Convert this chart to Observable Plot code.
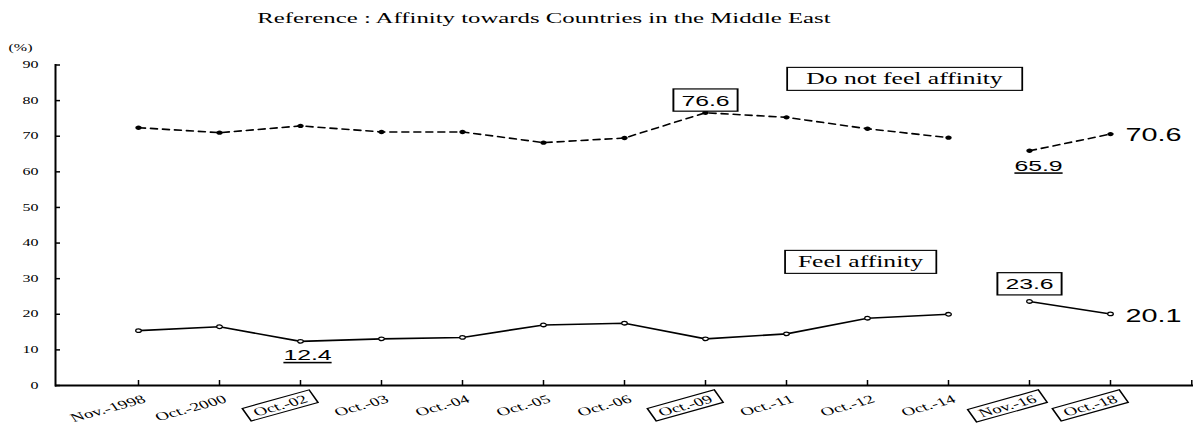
<!DOCTYPE html>
<html><head><meta charset="utf-8">
<script src="https://cdn.jsdelivr.net/npm/d3@7"></script>
<script src="https://cdn.jsdelivr.net/npm/@observablehq/plot@0.6"></script>
<style>body{margin:0;background:#fff} svg{display:block}</style>
</head><body>
<script>
// ---- data ----
const categories = ["Nov.-1998","Oct.-2000","Oct.-02","Oct.-03","Oct.-04","Oct.-05","Oct.-06","Oct.-09","Oct.-11","Oct.-12","Oct.-14","Nov.-16","Oct.-18"];
const notFeel = [72.4, 71.0, 72.9, 71.2, 71.2, 68.2, 69.5, 76.6, 75.3, 72.1, 69.6, 65.9, 70.6];
const feel    = [15.4, 16.5, 12.4, 13.1, 13.5, 17.0, 17.5, 13.1, 14.5, 18.9, 20.0, 23.6, 20.1];
const period  = [0,0,0,0,0,0,0,0,0,0,0,1,1]; // series break between Oct.-14 and Nov.-16
const yTicks = [0,10,20,30,40,50,60,70,80,90];
const boxedTicks = ["Oct.-02","Oct.-09","Nov.-16","Oct.-18"];
const titleText = "Reference : Affinity towards Countries in the Middle East";
const unitText = "(%)";
const legendNotFeel = "Do not feel affinity";
const legendFeel = "Feel affinity";

// ---- derived tables ----
const rowsNot = categories.map((c,i)=>({cat:c, value:notFeel[i], seg:period[i]}));
const rowsFeel = categories.map((c,i)=>({cat:c, value:feel[i], seg:period[i]}));
const pick = (rows, c) => rows.filter(d => d.cat === c);
const fmt = d => d.value.toFixed(1);

const boxedNot = pick(rowsNot, "Oct.-09"), boxedFeel = pick(rowsFeel, "Nov.-16");
const underFeel = pick(rowsFeel, "Oct.-02"), underNot = pick(rowsNot, "Nov.-16");
const endNot = pick(rowsNot, "Oct.-18"), endFeel = pick(rowsFeel, "Oct.-18");
const boxedValueTexts = [...boxedNot, ...boxedFeel].map(fmt);
const underlinedTexts = [...underFeel, ...underNot].map(fmt);

// ---- layout ----
const W = 1195, H = 426, mL = 55, mR = 2, mT = 64.5, mB = 41;
const step = (W - mL - mR) / (categories.length + 1);
const SX = 1.6;
const serif = "'Liberation Serif','Times New Roman',serif";
const sans = "'Liberation Sans',Arial,sans-serif";

function ellipse(rx, ry){
  const k = 0.5523;
  return {draw(ctx){
    ctx.moveTo(rx,0);
    ctx.bezierCurveTo(rx, ry*k, rx*k, ry, 0, ry);
    ctx.bezierCurveTo(-rx*k, ry, -rx, ry*k, -rx, 0);
    ctx.bezierCurveTo(-rx, -ry*k, -rx*k, -ry, 0, -ry);
    ctx.bezierCurveTo(rx*k, -ry, rx, -ry*k, rx, 0);
    ctx.closePath();
  }};
}

const chart = Plot.plot({
  width: W, height: H, marginLeft: mL, marginRight: mR, marginTop: mT, marginBottom: mB,
  style: {fontFamily: serif, fontSize: "12px", color: "#000", background: "#fff"},
  x: {type: "point", domain: categories, padding: 1},
  y: {type: "linear", domain: [0, 90]},
  marks: [
    Plot.frame({anchor: "left", strokeWidth: 2}),
    Plot.ruleY([0], {strokeWidth: 2}),
    Plot.axisY({ticks: yTicks, tickSize: 5, dx: 5, fill: "none", label: null, strokeWidth: 1.5}),
    Plot.axisY({ticks: yTicks, tickSize: 0, tickPadding: 17, fontSize: 10, label: null}),
    Plot.axisX({tickSize: 5, dy: -5, fill: "none", label: null, strokeWidth: 1.5}),
    Plot.ruleX([categories[categories.length-1]], {x: d => d, dx: step, y1: () => 0, y2: () => 1.4, strokeWidth: 1.5}),
    Plot.axisX({tickSize: 0, tickPadding: 13, tickRotate: -24, fontSize: 11.8, label: null, dx: 6}),
    // series lines
    Plot.line(rowsNot, {x: "cat", y: "value", z: "seg", stroke: "#000", strokeWidth: 1.6, strokeDasharray: "7,5"}),
    Plot.line(rowsFeel, {x: "cat", y: "value", z: "seg", stroke: "#000", strokeWidth: 1.6}),
    Plot.dot(rowsNot, {x: "cat", y: "value", symbol: ellipse(3.2, 2.2), fill: "#000", stroke: "none"}),
    Plot.dot(rowsFeel, {x: "cat", y: "value", symbol: ellipse(2.8, 1.8), fill: "#fff", stroke: "#000", strokeWidth: 1.3}),
    // value labels
    Plot.text(boxedNot, {x: "cat", y: "value", text: fmt, dy: -12, fontFamily: sans, fontSize: 15.5}),
    Plot.text(boxedFeel, {x: "cat", y: "value", text: fmt, dy: -17, fontFamily: sans, fontSize: 15.5}),
    Plot.text(underFeel, {x: "cat", y: "value", text: fmt, dx: 7, dy: 14, fontFamily: sans, fontSize: 15.5}),
    Plot.text(underNot, {x: "cat", y: "value", text: fmt, dx: 9, dy: 15, fontFamily: sans, fontSize: 15.5}),
    Plot.text(endNot, {x: "cat", y: "value", text: fmt, dx: 15, dy: 1, textAnchor: "start", fontFamily: sans, fontSize: 18}),
    Plot.text(endFeel, {x: "cat", y: "value", text: fmt, dx: 15, dy: 2, textAnchor: "start", fontFamily: sans, fontSize: 18}),
    // legend labels
    Plot.text([legendNotFeel], {frameAnchor: "top-left", text: d => d, textAnchor: "middle", lineAnchor: "middle", dx: 849, dy: 14, fontSize: 16}),
    Plot.text([legendFeel], {frameAnchor: "top-left", text: d => d, textAnchor: "middle", lineAnchor: "middle", dx: 805, dy: 197, fontSize: 16}),
    // title and unit
    Plot.text([titleText], {frameAnchor: "top-left", text: d => d, textAnchor: "middle", lineAnchor: "middle", dx: 488.5, dy: -47, fontSize: 15.5}),
    Plot.text([unitText], {frameAnchor: "top-left", text: d => d, textAnchor: "start", lineAnchor: "middle", dx: -47, dy: -17.5, fontSize: 10})
  ]
});
document.body.append(chart);

// ---- horizontal stretch of all text (the reference's text is widened) ----
function stretch(el){
  let t = el.getAttribute("transform");
  if (t) {
    const m = t.match(/^\s*translate\([^)]*\)/);
    t = m ? m[0] + ` scale(${SX},1)` + t.slice(m[0].length) : t + ` scale(${SX},1)`;
  } else {
    const x = +el.getAttribute("x") || 0, y = +el.getAttribute("y") || 0;
    el.removeAttribute("x"); el.removeAttribute("y");
    t = `translate(${x},${y}) scale(${SX},1)`;
  }
  el.setAttribute("transform", t);
}
const allTexts = [...chart.querySelectorAll("text")];
allTexts.forEach(stretch);

const NS = "http://www.w3.org/2000/svg";
function box(text, px, py, sw){
  const b = text.getBBox();
  const r = document.createElementNS(NS, "rect");
  r.setAttribute("x", b.x - px);
  r.setAttribute("y", b.y - py);
  r.setAttribute("width", b.width + 2*px);
  r.setAttribute("height", b.height + 2*py);
  r.setAttribute("fill", "#fff");
  r.setAttribute("stroke", "#000");
  r.setAttribute("stroke-width", sw);
  r.setAttribute("transform", text.getAttribute("transform"));
  text.parentNode.insertBefore(r, text);
}
const inAxis = t => /axis/.test(t.parentNode.getAttribute("aria-label") || "");
allTexts.forEach(t => {
  const s = t.textContent.trim();
  if (inAxis(t)) {
    if (t.parentNode.getAttribute("aria-label") === "x-axis tick label" && boxedTicks.includes(s)) box(t, 5, 0.5, 1.1);
    return;
  }
  if (boxedValueTexts.includes(s)) box(t, 5, 2.5, 1.2);
  else if (underlinedTexts.includes(s)) t.setAttribute("text-decoration", "underline");
  else if (s === legendNotFeel) box(t, 12, 2.5, 1.1);
  else if (s === legendFeel) box(t, 8, 2.5, 1.1);
});
</script>
</body></html>
